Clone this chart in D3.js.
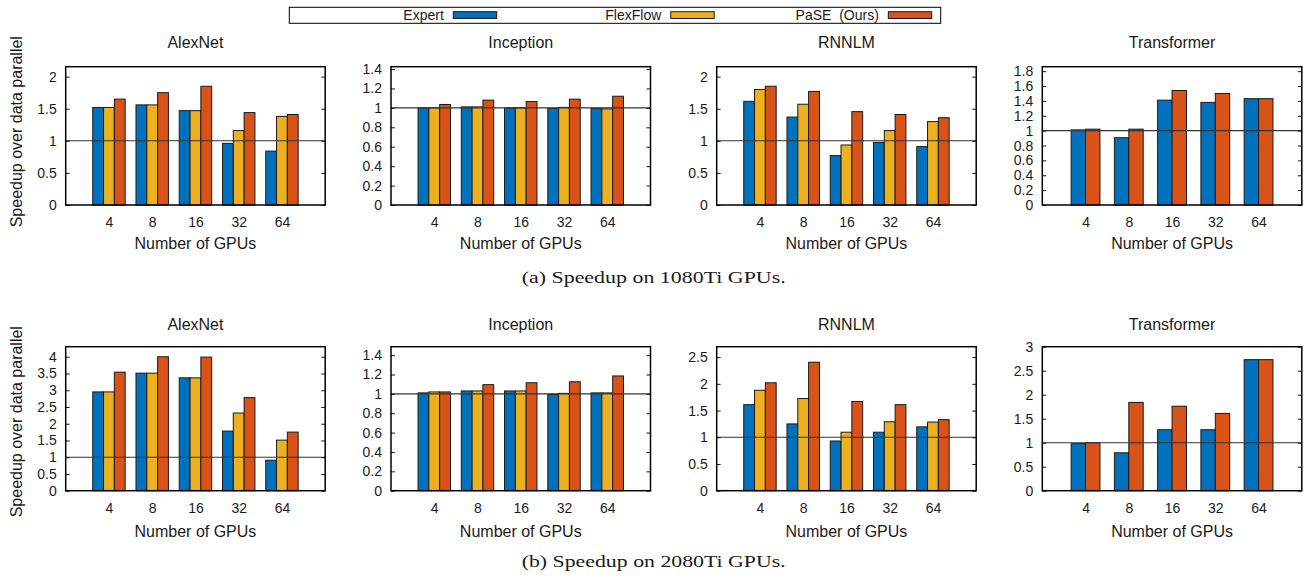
<!DOCTYPE html>
<html>
<head>
<meta charset="utf-8">
<script src="https://cdn.jsdelivr.net/npm/d3@7"></script>
<style>
  body { margin: 0; background: #fff; }
  text { font-family: "Liberation Sans", Arial, Helvetica, sans-serif; fill: #1a1a1a; }
  .caption { font-family: "Liberation Serif", "Times New Roman", serif; }
</style>
</head>
<body>
<script>
"use strict";

// categories and series
const gpuLabels = ["4", "8", "16", "32", "64"];
const seriesNames = ["Expert", "FlexFlow", "PaSE  (Ours)"];
const seriesColors = ["#0072BD", "#EDB120", "#D95319"];

// speedup values, one row per series (Expert, FlexFlow, PaSE); null = series not shown
const alexnet1080 = [[1.52, 1.56, 1.47, 0.96, 0.84], [1.52, 1.56, 1.47, 1.16, 1.38], [1.65, 1.75, 1.85, 1.44, 1.41]];
const inception1080 = [[1.00, 1.01, 1.00, 0.995, 0.995], [1.00, 1.01, 1.00, 1.005, 0.99], [1.035, 1.08, 1.065, 1.09, 1.12]];
const rnnlm1080 = [[1.615, 1.37, 0.77, 0.975, 0.91], [1.80, 1.57, 0.935, 1.16, 1.30], [1.85, 1.77, 1.455, 1.41, 1.36]];
const transformer1080 = [[1.01, 0.905, 1.41, 1.38, 1.43], null, [1.02, 1.02, 1.54, 1.50, 1.43]];

const alexnet2080 = [[2.95, 3.51, 3.37, 1.78, 0.91], [2.95, 3.51, 3.37, 2.32, 1.51], [3.54, 4.00, 3.99, 2.78, 1.75]];
const inception2080 = [[1.01, 1.03, 1.03, 0.995, 1.01], [1.02, 1.03, 1.03, 1.005, 1.01], [1.02, 1.095, 1.115, 1.125, 1.185]];
const rnnlm2080 = [[1.61, 1.25, 0.93, 1.095, 1.195], [1.88, 1.725, 1.095, 1.29, 1.285], [2.02, 2.405, 1.67, 1.61, 1.33]];
const transformer2080 = [[0.98, 0.79, 1.27, 1.27, 2.73], null, [1.00, 1.84, 1.76, 1.61, 2.73]];

// y tick labels per panel
const ticksHalf2 = [0, 0.5, 1, 1.5, 2];
const ticksInception = [0, 0.2, 0.4, 0.6, 0.8, 1, 1.2, 1.4];
const ticksTransformer1080 = [0, 0.2, 0.4, 0.6, 0.8, 1, 1.2, 1.4, 1.6, 1.8];
const ticksAlexnet2080 = [0, 0.5, 1, 1.5, 2, 2.5, 3, 3.5, 4];
const ticksRnnlm2080 = [0, 0.5, 1, 1.5, 2, 2.5];
const ticksTransformer2080 = [0, 0.5, 1, 1.5, 2, 2.5, 3];

const modelNames = ["AlexNet", "Inception", "RNNLM", "Transformer"];
const captions = ["(a) Speedup on 1080Ti GPUs.", "(b) Speedup on 2080Ti GPUs."];

// layout
const W = 1310, H = 579;
const colLeft = [65.7, 391, 716.7, 1042.3];
const plotW = 259.5;
const rows = [
    { top: 66.7, bottom: 205, titleY: 48.3, xTitleY: 248.5, yLabelY: 131.7, captionY: 282.5,
      panels: [
        { data: alexnet1080, ymax: 2.155, ticks: ticksHalf2 },
        { data: inception1080, ymax: 1.424, ticks: ticksInception },
        { data: rnnlm1080, ymax: 2.155, ticks: ticksHalf2 },
        { data: transformer1080, ymax: 1.86, ticks: ticksTransformer1080 }
      ] },
    { top: 346.7, bottom: 490.7, titleY: 330, xTitleY: 536.5, yLabelY: 421.7, captionY: 567,
      panels: [
        { data: alexnet2080, ymax: 4.3, ticks: ticksAlexnet2080 },
        { data: inception2080, ymax: 1.487, ticks: ticksInception },
        { data: rnnlm2080, ymax: 2.695, ticks: ticksRnnlm2080 },
        { data: transformer2080, ymax: 3.0, ticks: ticksTransformer2080 }
      ] }
];

const svg = d3.select("body").append("svg")
    .attr("width", W)
    .attr("height", H);

drawLegend();
rows.forEach((row, r) => {
    row.panels.forEach((p, c) => drawPanel(row, p, c));
    // y axis label, only left of first panel
    svg.append("text")
        .attr("transform", "translate(21.5," + row.yLabelY + ") rotate(-90)")
        .attr("text-anchor", "middle")
        .style("font-size", "16px")
        .text("Speedup over data parallel");
    // caption in serif, glyphs stretched a little sideways like the original
    svg.append("text")
        .attr("class", "caption")
        .attr("x", 521.7)
        .attr("y", row.captionY)
        .attr("textLength", 264)
        .attr("lengthAdjust", "spacingAndGlyphs")
        .style("font-size", "17.5px")
        .text(captions[r]);
});

function drawPanel(row, p, c) {
    let left = colLeft[c];
    let x = d3.scaleLinear().domain([-1, 5]).range([left, left + plotW]);
    let y = d3.scaleLinear().domain([0, p.ymax]).range([row.bottom, row.top]);
    let g = svg.append("g");

    // which series exist in this panel
    let present = p.data.map((d, i) => d ? i : -1).filter(i => i >= 0);
    let n = present.length;
    let bw = 1 / (n + 1);

    present.forEach((s, k) => {
        let offset = (k - (n - 1) / 2) * bw;
        g.selectAll(".bar-" + s)
            .data(p.data[s])
            .enter()
            .append("rect")
            .attr("x", (d, i) => x(i + offset - bw / 2))
            .attr("y", d => y(d))
            .attr("width", x(bw) - x(0))
            .attr("height", d => y(0) - y(d))
            .attr("fill", seriesColors[s])
            .attr("stroke", "#1a1a1a")
            .attr("stroke-width", 1);
    });

    // reference line at speedup 1
    g.append("line")
        .attr("x1", x(-1)).attr("x2", x(5))
        .attr("y1", y(1)).attr("y2", y(1))
        .attr("stroke", "#333")
        .attr("stroke-width", 1.1);

    // y axis with inward ticks, mirrored on right
    let fmt = d => String(+d.toFixed(2));
    let yAxis = g.append("g")
        .attr("transform", "translate(" + left + ",0)")
        .call(d3.axisLeft(y).tickValues(p.ticks).tickSize(-4).tickPadding(9).tickFormat(fmt));
    yAxis.select(".domain").remove();
    yAxis.selectAll("text").style("font-size", "14px").attr("fill", "#1a1a1a");
    yAxis.selectAll("line").attr("stroke", "#1a1a1a");

    let yAxisR = g.append("g")
        .attr("transform", "translate(" + (left + plotW) + ",0)")
        .call(d3.axisRight(y).tickValues(p.ticks).tickSize(-4).tickFormat(""));
    yAxisR.select(".domain").remove();
    yAxisR.selectAll("line").attr("stroke", "#1a1a1a");

    // x axis category labels
    let xAxis = g.append("g")
        .attr("transform", "translate(0," + row.bottom + ")")
        .call(d3.axisBottom(x).tickValues([0, 1, 2, 3, 4]).tickSize(0).tickPadding(12)
            .tickFormat(i => gpuLabels[i]));
    xAxis.select(".domain").remove();
    xAxis.selectAll("text").style("font-size", "14px").attr("fill", "#1a1a1a");

    // frame
    g.append("rect")
        .attr("x", left).attr("y", row.top)
        .attr("width", plotW).attr("height", row.bottom - row.top)
        .attr("fill", "none")
        .attr("stroke", "#000")
        .attr("stroke-width", 1.5);

    // title and x label
    g.append("text")
        .attr("x", left + plotW / 2)
        .attr("y", row.titleY)
        .attr("text-anchor", "middle")
        .style("font-size", "16px")
        .text(modelNames[c]);
    g.append("text")
        .attr("x", left + plotW / 2)
        .attr("y", row.xTitleY)
        .attr("text-anchor", "middle")
        .style("font-size", "16px")
        .text("Number of GPUs");
}

function drawLegend() {
    let lg = svg.append("g");
    lg.append("rect")
        .attr("x", 289.3).attr("y", 7.3)
        .attr("width", 651.4).attr("height", 16)
        .attr("fill", "none")
        .attr("stroke", "#000")
        .attr("stroke-width", 1);
    let swatchX = d3.scaleLinear().domain([0, 2]).range([453.3, 888.3]);
    seriesNames.forEach((name, i) => {
        lg.append("text")
            .attr("x", swatchX(i) - 9.5)
            .attr("y", 20.2)
            .attr("text-anchor", "end")
            .style("font-size", "14px")
            .style("white-space", "pre")
            .text(name);
        lg.append("rect")
            .attr("x", swatchX(i))
            .attr("y", 11.7)
            .attr("width", 43.4)
            .attr("height", 6.8)
            .attr("fill", seriesColors[i])
            .attr("stroke", "#1a1a1a")
            .attr("stroke-width", 1);
    });
}
</script>
</body>
</html>
